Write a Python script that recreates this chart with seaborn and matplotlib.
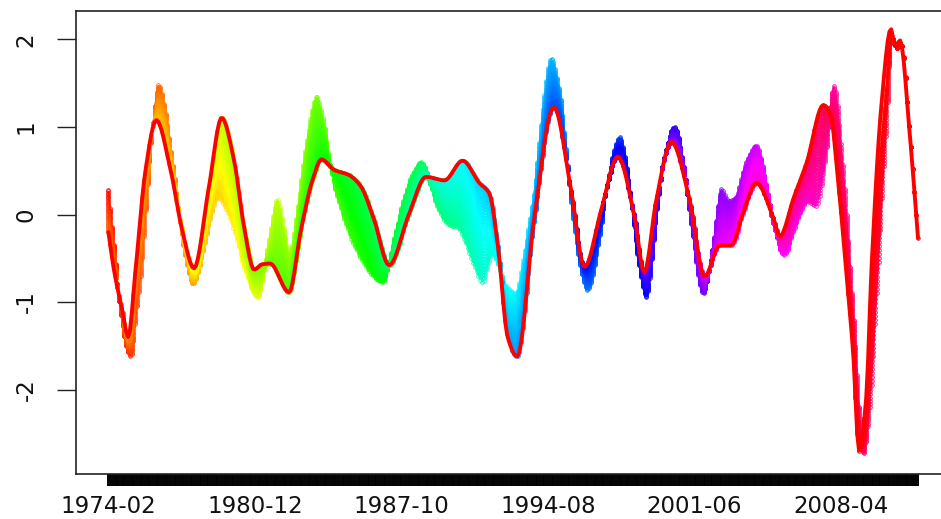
import colorsys

import numpy as np
import pandas as pd
import matplotlib
matplotlib.use("Agg")
import matplotlib.pyplot as plt
import seaborn as sns

# ---------------------------------------------------------------------------
# Data: monthly filter output, 1974-02 onwards
# ---------------------------------------------------------------------------
first_year, first_month = 1974, 2
n_months = 454
label_step = 82

# Final (full-sample) filter output, knots at (month index, value)
final_knot_month = [0, 3.1, 7.7, 11.1, 15.2, 20.8, 26.8, 34.8, 41.3, 47.9,
                    56.3, 63.4, 70.3, 75.9, 81.5, 86, 90.5, 101.1, 107.7, 114.2,
                    119.2, 126.3, 134.7, 141.3, 148.7, 157.1, 168.3, 177.7, 188, 198.2,
                    207.6, 213.2, 217.8, 223.4, 228.7, 238.4, 249.2, 258.9, 266.4, 275.7,
                    285, 294.4, 299.8, 306.6, 315, 325.2, 333.6, 342, 348.6, 355,
                    362.6, 371.9, 375.6, 383.6, 390.6, 400, 404, 408, 412, 416.7,
                    420, 424, 427, 432.6, 437.8, 440.3, 442.9, 448.5, 453]
final_knot_value = [-0.20, -0.63, -1.09, -1.40, -0.63, 0.51, 1.08, 0.51, -0.18, -0.615,
                    0.32, 1.106, 0.62, -0.14, -0.63, -0.57, -0.56, -0.89, -0.18, 0.39,
                    0.63, 0.51, 0.45, 0.32, -0.06, -0.58, 0.01, 0.43, 0.39, 0.615,
                    0.36, 0.24, -0.33, -1.40, -1.625, -0.03, 1.23, 0.28, -0.60, 0.05,
                    0.66, -0.03, -0.66, 0.17, 0.83, 0.17, -0.71, -0.35, -0.35, 0.01,
                    0.36, -0.03, -0.25, 0.20, 0.585, 1.25, 1.15, 0.45, -0.45, -1.58,
                    -2.70, -2.10, -0.60, 1.27, 2.12, 1.92, 1.99, 0.89, -0.27]

# Real-time (concurrent) filter output, knots at (month index, value)
rt_knot_month = [0, 3, 7, 12.4, 16, 19, 23, 28.3, 32, 36.7,
                 42, 47.3, 52, 57, 61, 65, 70, 76, 83.4, 89,
                 94.6, 98, 101.5, 106, 111, 116.6, 120, 124.5, 131.6, 140,
                 148.7, 153.4, 159, 165, 170, 175, 180, 185, 190.8, 196,
                 200, 205, 209.4, 215, 222, 228, 233, 238.4, 243, 247.7,
                 252, 256, 261, 268.2, 274, 280, 286, 291, 296, 301,
                 306, 311, 316.8, 321.5, 327, 332.7, 338, 343, 347, 351,
                 356, 362.6, 367, 372, 378, 384, 391, 396, 401, 406,
                 410, 414, 418, 422.5, 426, 430, 435, 438.5, 441, 443.5,
                 448.5, 453]
rt_knot_value = [0.28, -0.35, -1.15, -1.62, -1.05, -0.50, 0.60, 1.48, 1.15, 0.45,
                 -0.35, -0.79, -0.50, -0.05, 0.20, 0.10, -0.15, -0.60, -0.94, -0.40,
                 0.17, -0.15, -0.45, 0.10, 0.85, 1.35, 1.10, 0.51, -0.03, -0.45,
                 -0.71, -0.77, -0.35, 0.15, 0.45, 0.60, 0.35, 0.05, -0.12, -0.15,
                 -0.33, -0.60, -0.77, -0.45, -0.80, -0.90, -0.40, 0.30, 1.20, 1.785,
                 1.45, 0.75, -0.20, -0.86, -0.35, 0.45, 0.88, 0.40, -0.45, -0.94,
                 -0.10, 0.65, 1.00, 0.60, -0.25, -0.90, -0.40, 0.29, 0.15, 0.20,
                 0.55, 0.79, 0.45, -0.10, -0.46, -0.15, 0.15, 0.10, 0.60, 1.47,
                 0.80, -0.30, -1.50, -2.74, -2.20, -0.90, 0.90, 2.00, 1.90, 1.95,
                 0.89, -0.27]

# number of months over which a vintage's end-point revision fades out
revision_span = 30


def pchip(xk, yk, xq):
    """Shape-preserving piecewise cubic through the knots."""
    xk = np.asarray(xk, float)
    yk = np.asarray(yk, float)
    xq = np.asarray(xq, float)
    h = np.diff(xk)
    d = np.diff(yk) / h
    m = np.zeros_like(yk)
    for i in range(1, len(xk) - 1):
        if d[i - 1] * d[i] > 0:
            w1 = 2 * h[i] + h[i - 1]
            w2 = h[i] + 2 * h[i - 1]
            m[i] = (w1 + w2) / (w1 / d[i - 1] + w2 / d[i])
    m[0], m[-1] = d[0], d[-1]
    idx = np.clip(np.searchsorted(xk, xq) - 1, 0, len(h) - 1)
    t = (xq - xk[idx]) / h[idx]
    h00 = 2 * t**3 - 3 * t**2 + 1
    h10 = t**3 - 2 * t**2 + t
    h01 = -2 * t**3 + 3 * t**2
    h11 = t**3 - t**2
    return (h00 * yk[idx] + h10 * h[idx] * m[idx]
            + h01 * yk[idx + 1] + h11 * h[idx] * m[idx + 1])


months = np.arange(n_months)
final = pchip(final_knot_month, final_knot_value, months)
realtime = pchip(rt_knot_month, rt_knot_value, months)

# month labels
labels = []
for i in months:
    y = first_year + (first_month - 1 + i) // 12
    m = (first_month - 1 + i) % 12 + 1
    labels.append(f"{y}-{m:02d}")

# vintages: each one ends at month T and revises back toward the final path
rows = []
for T in months:
    j = np.arange(max(0, T - revision_span), T + 1)
    w = 1.0 - (T - j) / revision_span
    vals = final[j] + (realtime[j] - final[j]) * w
    for jj, vv in zip(j, vals):
        rows.append((f"v{T:03d}", jj, vv))
vint = pd.DataFrame(rows, columns=["vintage", "month", "value"])
palette = {f"v{T:03d}": colorsys.hsv_to_rgb(T / n_months, 1.0, 1.0) for T in months}

# ---------------------------------------------------------------------------
# Figure
# ---------------------------------------------------------------------------
sns.set_style("white")
plt.rcParams["font.family"] = ["DejaVu Sans"]

fig = plt.figure(figsize=(9.41, 5.19), dpi=100)
ax = fig.add_axes([76 / 941, 1 - 473.7 / 519, (950.4 - 76) / 941, (473.7 - 10.7) / 519])

sns.lineplot(data=vint, x="month", y="value", hue="vintage", palette=palette,
             units="vintage", estimator=None, sort=False, legend=False,
             lw=0.75, marker="o", markersize=2.6, markerfacecolor="none",
             markeredgewidth=0.6, ax=ax)
# open circles drawn in each vintage's own colour
for ln in ax.lines:
    ln.set_markeredgecolor(ln.get_color())

sns.lineplot(x=months, y=final, color="#ff0000", lw=2.8, ax=ax)

span = n_months - 1
ax.set_xlim(-0.04 * span, span * 1.04)
ax.set_ylim(-2.962, 2.329)

major = list(range(0, n_months, label_step))
ax.set_xticks(major)
ax.set_xticklabels([labels[i] for i in major], fontsize=16.5, color="#111111")
ax.set_xticks(months, minor=True)
ax.tick_params(axis="x", which="both", length=8.4, width=1.4, color="black",
               direction="out", bottom=True, pad=7)

ax.set_yticks([-2, -1, 0, 1, 2])
ax.set_yticklabels(["-2", "-1", "0", "1", "2"], rotation=90, va="center",
                   fontsize=16.5, color="#111111")
ax.tick_params(axis="y", length=13.5, width=1.0, color="#222222",
               direction="out", left=True, pad=14)

for s in ax.spines.values():
    s.set_color("#222222")
    s.set_linewidth(1.2)
    s.set_visible(True)

ax.set_xlabel("")
ax.set_ylabel("")

fig.savefig("out.png", dpi=100)
